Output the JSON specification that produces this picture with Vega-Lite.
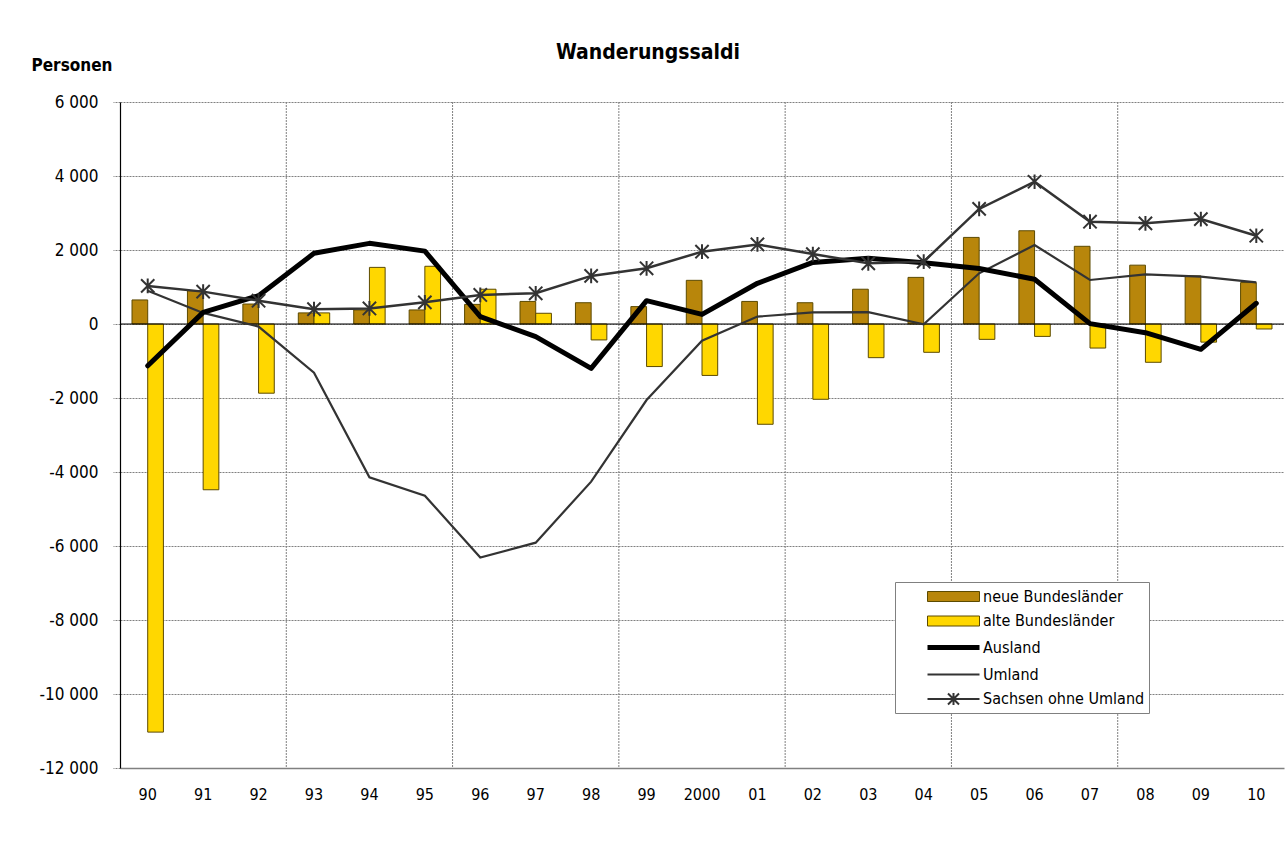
{
  "$schema": "https://vega.github.io/schema/vega-lite/v6.json",
  "autosize": "none",
  "width": 1164,
  "height": 666,
  "padding": {"left": 120, "top": 102, "right": 4, "bottom": 90},
  "background": "white",
  "config": {
    "font": "Liberation Sans Narrow, Arial Narrow, DejaVu Sans Condensed, sans-serif",
    "view": {"stroke": null},
    "legend": {"symbolOpacity": 1}
  },
  "title": {
    "text": "Wanderungssaldi",
    "fontSize": 21,
    "fontWeight": "bold",
    "color": "black",
    "anchor": "middle",
    "dx": -54,
    "dy": 49,
    "offset": 42
  },
  "data": {
    "values": [
      {"year": "90", "neue Bundesländer": 650, "alte Bundesländer": -11030, "Ausland": -1130, "Umland": 900, "Sachsen ohne Umland": 1030},
      {"year": "91", "neue Bundesländer": 900, "alte Bundesländer": -4480, "Ausland": 315, "Umland": 300, "Sachsen ohne Umland": 875},
      {"year": "92", "neue Bundesländer": 540, "alte Bundesländer": -1870, "Ausland": 765, "Umland": -70, "Sachsen ohne Umland": 630},
      {"year": "93", "neue Bundesländer": 300, "alte Bundesländer": 300, "Ausland": 1910, "Umland": -1315, "Sachsen ohne Umland": 400},
      {"year": "94", "neue Bundesländer": 380, "alte Bundesländer": 1530, "Ausland": 2180, "Umland": -4145, "Sachsen ohne Umland": 420},
      {"year": "95", "neue Bundesländer": 380, "alte Bundesländer": 1560, "Ausland": 1970, "Umland": -4640, "Sachsen ohne Umland": 585},
      {"year": "96", "neue Bundesländer": 530, "alte Bundesländer": 940, "Ausland": 200, "Umland": -6310, "Sachsen ohne Umland": 785},
      {"year": "97", "neue Bundesländer": 610, "alte Bundesländer": 290, "Ausland": -340, "Umland": -5910, "Sachsen ohne Umland": 830},
      {"year": "98", "neue Bundesländer": 575, "alte Bundesländer": -430, "Ausland": -1200, "Umland": -4260, "Sachsen ohne Umland": 1300},
      {"year": "99", "neue Bundesländer": 470, "alte Bundesländer": -1150, "Ausland": 630, "Umland": -2055, "Sachsen ohne Umland": 1505},
      {"year": "2000", "neue Bundesländer": 1180, "alte Bundesländer": -1390, "Ausland": 260, "Umland": -450, "Sachsen ohne Umland": 1955},
      {"year": "01", "neue Bundesländer": 610, "alte Bundesländer": -2710, "Ausland": 1100, "Umland": 200, "Sachsen ohne Umland": 2150},
      {"year": "02", "neue Bundesländer": 575, "alte Bundesländer": -2035, "Ausland": 1665, "Umland": 315, "Sachsen ohne Umland": 1890},
      {"year": "03", "neue Bundesländer": 940, "alte Bundesländer": -910, "Ausland": 1775, "Umland": 320, "Sachsen ohne Umland": 1640},
      {"year": "04", "neue Bundesländer": 1260, "alte Bundesländer": -765, "Ausland": 1655, "Umland": -10, "Sachsen ohne Umland": 1685},
      {"year": "05", "neue Bundesländer": 2340, "alte Bundesländer": -415, "Ausland": 1500, "Umland": 1370, "Sachsen ohne Umland": 3110},
      {"year": "06", "neue Bundesländer": 2520, "alte Bundesländer": -335, "Ausland": 1210, "Umland": 2135, "Sachsen ohne Umland": 3845},
      {"year": "07", "neue Bundesländer": 2100, "alte Bundesländer": -650, "Ausland": 10, "Umland": 1190, "Sachsen ohne Umland": 2765},
      {"year": "08", "neue Bundesländer": 1590, "alte Bundesländer": -1035, "Ausland": -235, "Umland": 1340, "Sachsen ohne Umland": 2720},
      {"year": "09", "neue Bundesländer": 1300, "alte Bundesländer": -490, "Ausland": -685, "Umland": 1280, "Sachsen ohne Umland": 2835},
      {"year": "10", "neue Bundesländer": 1120, "alte Bundesländer": -135, "Ausland": 560, "Umland": 1125, "Sachsen ohne Umland": 2385}
    ]
  },
  "layer": [
    {
      "data": {"values": [
        {"series": "neue Bundesländer"},
        {"series": "alte Bundesländer"},
        {"series": "Ausland"},
        {"series": "Umland"},
        {"series": "Sachsen ohne Umland"}
      ]},
      "mark": {"type": "point", "filled": true, "opacity": 0},
      "encoding": {
        "fill": {"field": "series", "type": "nominal",
                 "scale": {"domain": ["neue Bundesländer", "alte Bundesländer", "Ausland", "Umland", "Sachsen ohne Umland"],
                           "range": ["#B8860B", "#FFD700", "transparent", "transparent", "transparent"]},
                 "legend": {"title": null, "orient": "none", "legendX": 775, "legendY": 480, "direction": "vertical",
                            "strokeColor": "#808080", "fillColor": "white", "padding": 4,
                            "symbolSize": 400, "symbolOffset": 42, "labelOffset": 17, "rowPadding": 5.5, "symbolOpacity": 1,
                            "labelFontSize": 16, "labelColor": "black", "labelLimit": 300}},
        "stroke": {"field": "series", "type": "nominal",
                   "scale": {"domain": ["neue Bundesländer", "alte Bundesländer", "Ausland", "Umland", "Sachsen ohne Umland"],
                             "range": ["#5c4a00", "#5c4a00", "#000000", "#333333", "#333333"]},
                   "legend": {"title": null, "orient": "none", "legendX": 775, "legendY": 480, "direction": "vertical",
                              "strokeColor": "#808080", "fillColor": "white", "padding": 4,
                              "symbolSize": 400, "symbolOffset": 42, "labelOffset": 17, "rowPadding": 5.5, "symbolOpacity": 1,
                              "labelFontSize": 16, "labelColor": "black", "labelLimit": 300}},
        "shape": {"field": "series", "type": "nominal",
                  "scale": {"domain": ["neue Bundesländer", "alte Bundesländer", "Ausland", "Umland", "Sachsen ohne Umland"],
                            "range": ["M-2.6,-0.5H2.6V0.5H-2.6Z", "M-2.6,-0.5H2.6V0.5H-2.6Z", "M-2.6,0H2.6", "M-2.6,0H2.6", "M-2.6,0H2.6M-0.55,-0.55L0.55,0.55M-0.55,0.55L0.55,-0.55M0,-0.6V0.6"]},
                  "legend": {"title": null, "orient": "none", "legendX": 775, "legendY": 480, "direction": "vertical",
                             "strokeColor": "#808080", "fillColor": "white", "padding": 4,
                             "symbolSize": 400, "symbolOffset": 42, "labelOffset": 17, "rowPadding": 5.5, "symbolOpacity": 1,
                             "labelFontSize": 16, "labelColor": "black", "labelLimit": 300}},
        "strokeWidth": {"field": "series", "type": "nominal",
                        "scale": {"type": "ordinal", "domain": ["neue Bundesländer", "alte Bundesländer", "Ausland", "Umland", "Sachsen ohne Umland"],
                                  "range": [1, 1, 5, 2, 2]},
                        "legend": {"title": null, "orient": "none", "legendX": 775, "legendY": 480, "direction": "vertical",
                                   "strokeColor": "#808080", "fillColor": "white", "padding": 4,
                                   "symbolSize": 400, "symbolOffset": 42, "labelOffset": 17, "rowPadding": 5.5, "symbolOpacity": 1,
                                   "labelFontSize": 16, "labelColor": "black", "labelLimit": 300}}
      }
    },
    {
      "transform": [{"fold": ["neue Bundesländer", "alte Bundesländer"], "as": ["series", "value"]}],
      "mark": {"type": "bar", "stroke": "#5c4a00", "strokeWidth": 1},
      "encoding": {
        "x": {"field": "year", "type": "nominal",
              "scale": {"domain": ["90","91","92","93","94","95","96","97","98","99","2000","01","02","03","04","05","06","07","08","09","10"], "paddingInner": 0, "paddingOuter": 0},
              "axis": {"title": null, "labelAngle": 0, "bandPosition": 0.5, "labelAlign": "center", "ticks": false, "tickSize": 0, "labelPadding": 18, "labelFontSize": 16, "labelColor": "black", "domainColor": "#808080", "domainWidth": 1.5, "grid": false}},
        "xOffset": {"field": "series", "type": "nominal",
                    "scale": {"domain": ["neue Bundesländer", "alte Bundesländer"], "paddingInner": 0, "paddingOuter": 0.765}},
        "y": {"field": "value", "type": "quantitative",
              "scale": {"domain": [-12000, 6000], "nice": false},
              "axis": {"values": [-12000, -10000, -8000, -6000, -4000, -2000, 0, 2000, 4000, 6000],
                       "grid": true, "gridColor": "#808080", "gridDash": [2, 1], "gridWidth": 1,
                       "tickColor": "#808080", "tickDash": [2, 1], "tickSize": 7,
                       "domainColor": "black", "domainWidth": 1.2,
                       "labelFontSize": 17, "labelColor": "black", "labelPadding": 15,
                       "labelExpr": "(datum.value < 0 ? '-' : '') + replace(format(abs(datum.value), ','), ',', ' ')",
                       "title": "Personen", "titleAngle": 0, "titleAlign": "left", "titleBaseline": "middle",
                       "titleX": -89, "titleY": -37, "titleFontSize": 17, "titleFontWeight": "bold", "titleColor": "black"}},
        "fill": {"field": "series", "type": "nominal"}
      }
    },
    {
      "transform": [{"filter": {"field": "year", "oneOf": ["93", "96", "99", "02", "05", "08"]}}],
      "mark": {"type": "rule", "color": "#808080", "strokeWidth": 1, "strokeDash": [2, 1]},
      "encoding": {
        "x": {"field": "year", "type": "nominal", "bandPosition": 0,
              "scale": {"domain": ["90","91","92","93","94","95","96","97","98","99","2000","01","02","03","04","05","06","07","08","09","10"], "paddingInner": 0, "paddingOuter": 0}}
      }
    },
    {
      "data": {"values": [{"zero": 0}]},
      "mark": {"type": "rule", "color": "black", "strokeWidth": 1.2},
      "encoding": {"y": {"field": "zero", "type": "quantitative"}}
    },
    {
      "transform": [{"fold": ["Umland"], "as": ["series", "value"]}],
      "mark": {"type": "line", "strokeWidth": 2.2},
      "encoding": {
        "x": {"field": "year", "type": "nominal", "scale": {"domain": ["90","91","92","93","94","95","96","97","98","99","2000","01","02","03","04","05","06","07","08","09","10"], "paddingInner": 0, "paddingOuter": 0}},
        "y": {"field": "value", "type": "quantitative"},
        "stroke": {"field": "series", "type": "nominal"}
      }
    },
    {
      "transform": [{"fold": ["Ausland"], "as": ["series", "value"]}],
      "mark": {"type": "line", "strokeWidth": 5, "strokeJoin": "round", "strokeCap": "round"},
      "encoding": {
        "x": {"field": "year", "type": "nominal", "scale": {"domain": ["90","91","92","93","94","95","96","97","98","99","2000","01","02","03","04","05","06","07","08","09","10"], "paddingInner": 0, "paddingOuter": 0}},
        "y": {"field": "value", "type": "quantitative"},
        "stroke": {"field": "series", "type": "nominal"}
      }
    },
    {
      "transform": [{"fold": ["Sachsen ohne Umland"], "as": ["series", "value"]}],
      "mark": {"type": "line", "strokeWidth": 2.5},
      "encoding": {
        "x": {"field": "year", "type": "nominal", "scale": {"domain": ["90","91","92","93","94","95","96","97","98","99","2000","01","02","03","04","05","06","07","08","09","10"], "paddingInner": 0, "paddingOuter": 0}},
        "y": {"field": "value", "type": "quantitative"},
        "stroke": {"field": "series", "type": "nominal"}
      }
    },
    {
      "transform": [{"fold": ["Sachsen ohne Umland"], "as": ["series", "value"]}],
      "mark": {"type": "point", "shape": "M-0.95,-0.95L0.95,0.95M-0.95,0.95L0.95,-0.95M0,-1.05V1.05", "size": 196, "filled": false, "strokeWidth": 2, "opacity": 1},
      "encoding": {
        "x": {"field": "year", "type": "nominal", "scale": {"domain": ["90","91","92","93","94","95","96","97","98","99","2000","01","02","03","04","05","06","07","08","09","10"], "paddingInner": 0, "paddingOuter": 0}},
        "y": {"field": "value", "type": "quantitative"},
        "stroke": {"field": "series", "type": "nominal"}
      }
    }
  ]
}
